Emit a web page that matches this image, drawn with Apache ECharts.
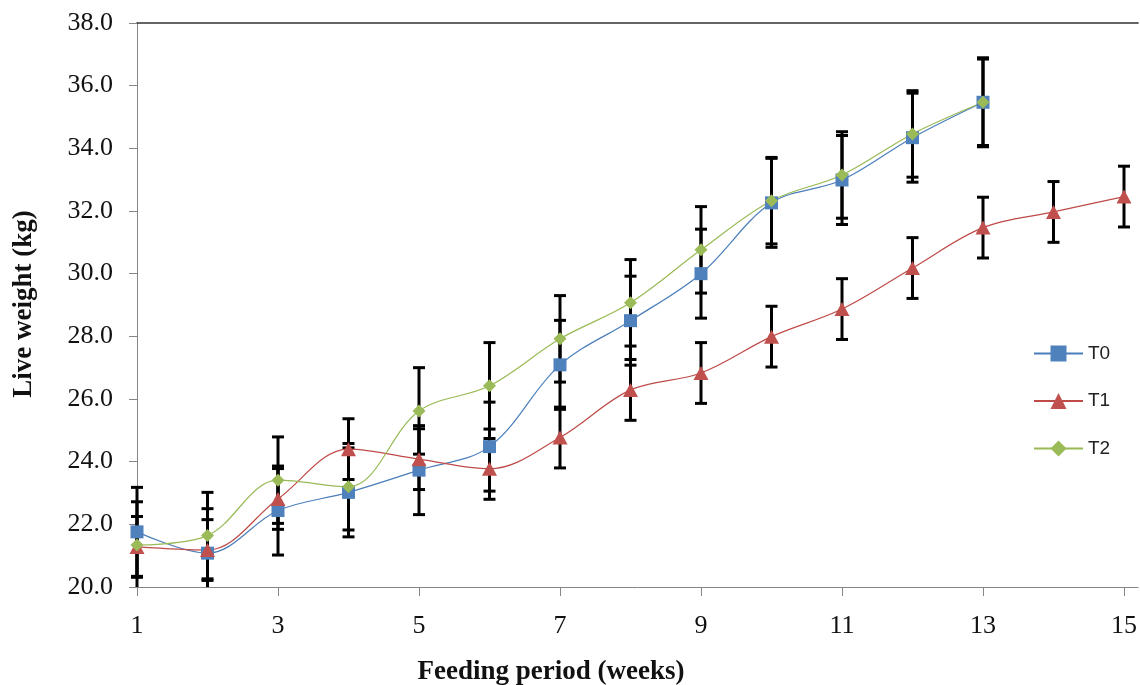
<!DOCTYPE html>
<html>
<head>
<meta charset="utf-8">
<script src="https://cdn.jsdelivr.net/npm/echarts@6/dist/echarts.min.js"></script>
<style>
html,body{margin:0;padding:0;background:#fff;}
#chart{width:1140px;height:685px;}
</style>
</head>
<body>
<div id="chart"></div>
<script>
// ---- data ----
const weeks = [1,2,3,4,5,6,7,8,9,10,11,12,13,14,15];
const xTickValues = [1,3,5,7,9,11,13,15];
const seriesNames = ['T0','T1','T2'];
const t0 = [21.76,21.08,22.44,23.02,23.73,24.48,27.09,28.50,30.00,32.26,32.99,34.34,35.47];
const t1 = [21.28,21.18,22.81,24.40,24.08,23.77,24.77,26.29,26.83,27.99,28.87,30.18,31.47,31.97,32.46];
const t2 = [21.34,21.64,23.41,23.20,25.62,26.42,27.92,29.07,30.76,32.33,33.15,34.46,35.47];
// error bar half-widths (constant per series in the figure)
const errT0 = 1.42;
const errT1 = 0.97;
const errT2 = 1.38;

const colors = {T0:'#4F81BD', T1:'#C0504D', T2:'#9BBB59'};
const lineColors = {T0:'#4A7EBB', T1:'#BE4B48', T2:'#98B954'};
const serif = '"Liberation Serif","Times New Roman",serif';

function pts(vals){ return vals.map((v,i)=>[weeks[i], v]); }

function errSeries(vals, e){
  return {
    type:'custom',
    silent:true,
    z:1,
    data: vals.map((v,i)=>[weeks[i], v - e, v + e]),
    encode:{x:0, y:[1,2]},
    renderItem:function(params, api){
      const x = api.value(0);
      const lo = api.coord([x, api.value(1)]);
      const hi = api.coord([x, api.value(2)]);
      const cs = params.coordSys;
      const bottom = cs.y + cs.height;
      const w = 6;
      const st = {stroke:'#000', lineWidth:3};
      const children = [];
      let loY = lo[1];
      let loCap = true;
      if (loY > bottom) { loY = bottom; loCap = false; }
      children.push({type:'line', shape:{x1:lo[0], y1:loY, x2:hi[0], y2:hi[1]}, style:st});
      children.push({type:'line', shape:{x1:hi[0]-w, y1:hi[1], x2:hi[0]+w, y2:hi[1]}, style:st});
      if (loCap) children.push({type:'line', shape:{x1:lo[0]-w, y1:loY, x2:lo[0]+w, y2:loY}, style:st});
      return {type:'group', children:children};
    }
  };
}

function lineSeries(name, vals, symbol, size){
  return {
    name:name, type:'line', z:3,
    data: pts(vals),
    smooth:0.35,
    symbol:symbol, symbolSize:size,
    showSymbol:true,
    lineStyle:{color:lineColors[name], width:1.2},
    itemStyle:{color:colors[name]},
    emphasis:{disabled:true}
  };
}

const chart = echarts.init(document.getElementById('chart'));
chart.setOption({
  animation:false,
  backgroundColor:'#fff',
  grid:{left:137, top:23, right:-1, bottom:98, containLabel:false},
  xAxis:[{
    type:'value', min:1, max:15.2,
    axisLine:{show:true, lineStyle:{color:'#868686', width:1}},
    axisTick:{show:true, inside:false, length:9, customValues:xTickValues, lineStyle:{color:'#868686'}},
    axisLabel:{customValues:xTickValues, margin:26, color:'#111', fontFamily:serif, fontSize:26},
    splitLine:{show:false}
  },{
    type:'value', min:1, max:15.2, position:'top',
    axisLine:{show:true, onZero:false, lineStyle:{color:'#333', width:1.5}},
    axisTick:{show:false}, axisLabel:{show:false}, splitLine:{show:false}
  }],
  yAxis:{
    type:'value', min:20, max:38, interval:2,
    axisLine:{show:true, lineStyle:{color:'#868686', width:1}},
    axisTick:{show:true, inside:false, length:8, lineStyle:{color:'#868686'}},
    axisLabel:{margin:24, color:'#111', fontFamily:serif, fontSize:26,
      formatter:function(v){return v.toFixed(1);}},
    splitLine:{show:false}
  },
  legend:{
    data:seriesNames,
    orient:'vertical',
    left:1028, top:339,
    itemWidth:49, itemHeight:20, itemGap:28.5,
    textStyle:{fontFamily:'"Liberation Sans",Arial,sans-serif', fontSize:19, color:'#222'},
    selectedMode:false
  },
  graphic:[
    {type:'text', x:551, y:672, style:{text:'Feeding period (weeks)', font:'bold 27px '+serif, fill:'#111', textAlign:'center', textVerticalAlign:'middle'}},
    {type:'text', x:24, y:304, rotation:Math.PI/2, style:{text:'Live weight (kg)', font:'bold 27px '+serif, fill:'#111', textAlign:'center', textVerticalAlign:'middle'}}
  ],
  series:[
    errSeries(t0, errT0),
    errSeries(t1, errT1),
    errSeries(t2, errT2),
    lineSeries('T0', t0, 'rect', 13),
    lineSeries('T1', t1, 'triangle', [15,14]),
    lineSeries('T2', t2, 'diamond', [13,13])
  ]
});
</script>
</body>
</html>
